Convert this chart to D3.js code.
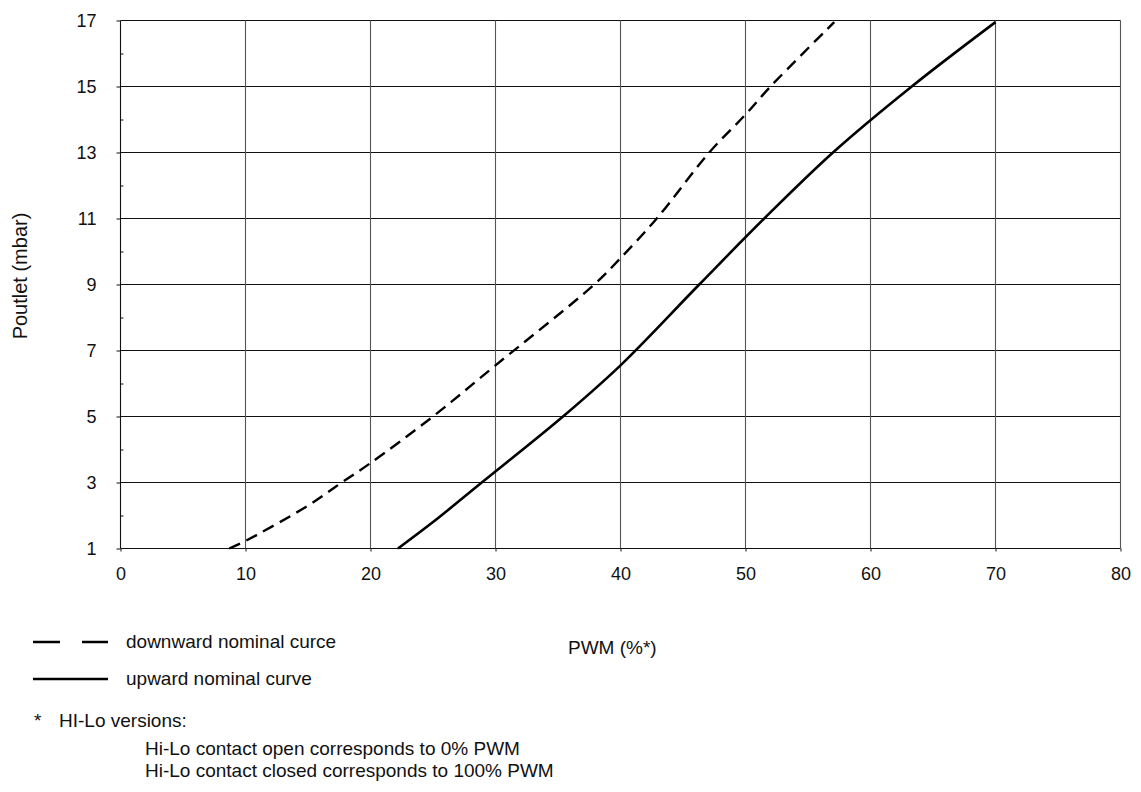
<!DOCTYPE html>
<html>
<head>
<meta charset="utf-8">
<script src="https://cdn.jsdelivr.net/npm/d3@7"></script>
<style>
    body { margin: 0; background: #fff; }
    text { font-family: "Liberation Sans", Arial, sans-serif; fill: #111; }
    .tick-label { font-size: 18px; }
    .legend { font-size: 19px; }
    .axis-title { font-size: 20px; }
</style>
</head>
<body>
<svg id="chart"></svg>
<script>
// data: [PWM %, Poutlet mbar]
const downwardCurve = [
    [8.7, 1], [10, 1.23], [15, 2.3], [17.7, 3], [20, 3.59], [25, 5],
    [30, 6.55], [37.9, 9], [40, 9.8], [42.9, 11], [47.1, 13],
    [50, 14.15], [52, 15], [57.1, 16.95]
];
const upwardCurve = [
    [22.2, 1], [25, 1.8], [28.9, 3], [35.4, 5], [40, 6.55], [46.3, 9],
    [51.5, 11], [57, 13], [63.3, 15], [70, 16.95]
];
const xTicks = [0, 10, 20, 30, 40, 50, 60, 70, 80];
const yTicks = [1, 3, 5, 7, 9, 11, 13, 15, 17];
const yMinorTicks = [2, 4, 6, 8, 10, 12, 14, 16];
const legendLabels = ['downward nominal curce', 'upward nominal curve'];
const footnoteLines = [
    'Hi-Lo contact open corresponds to 0% PWM',
    'Hi-Lo contact closed corresponds to 100% PWM'
];

// sizes

let outerWidth = 1141;
let outerHeight = 792;
let plotLeft = 120.5;
let plotRight = 1120.5;
let plotTop = 20.5;
let plotBottom = 548.5;

let xScale = d3.scaleLinear().domain([0, 80]).range([plotLeft, plotRight]);
let yScale = d3.scaleLinear().domain([1, 17]).range([plotBottom, plotTop]);

let svg = d3.select('#chart')
    .attr('width', outerWidth)
    .attr('height', outerHeight);

// grid

let grid = svg.append('g');

grid.selectAll('.hline')
    .data(yTicks)
    .enter()
    .append('line')
    .attr('x1', plotLeft)
    .attr('x2', plotRight)
    .attr('y1', d => yScale(d))
    .attr('y2', d => yScale(d))
    .style('stroke', '#111')
    .style('stroke-width', 1.1);

grid.selectAll('.vline')
    .data(xTicks)
    .enter()
    .append('line')
    .attr('x1', d => xScale(d))
    .attr('x2', d => xScale(d))
    .attr('y1', plotTop)
    .attr('y2', plotBottom)
    .style('stroke', d => d === 0 ? '#111' : '#555')
    .style('stroke-width', 1.1);

// axes

svg.append('g')
    .attr('transform', `translate(${plotLeft}, 0)`)
    .call(d3.axisLeft(yScale).tickValues(yTicks).tickSize(4).tickPadding(20).tickFormat(d3.format('d')))
    .call(g => g.select('.domain').remove())
    .call(g => g.selectAll('.tick line').style('stroke', '#111'))
    .call(g => g.selectAll('.tick text')
        .attr('class', 'tick-label')
        .attr('font-family', null)
        .attr('font-size', null));

// minor ticks point inwards
svg.append('g')
    .attr('transform', `translate(${plotLeft}, 0)`)
    .call(d3.axisRight(yScale).tickValues(yMinorTicks).tickSize(3).tickFormat(''))
    .call(g => g.select('.domain').remove())
    .call(g => g.selectAll('.tick line').style('stroke', '#111'));

svg.append('g')
    .attr('transform', `translate(0, ${plotBottom})`)
    .call(d3.axisBottom(xScale).tickValues(xTicks).tickSize(3).tickPadding(16))
    .call(g => g.select('.domain').remove())
    .call(g => g.selectAll('.tick line').style('stroke', '#111'))
    .call(g => g.selectAll('.tick text')
        .attr('class', 'tick-label')
        .attr('font-family', null)
        .attr('font-size', null));

svg.append('text')
    .attr('transform', 'rotate(-90)')
    .attr('x', -276)
    .attr('y', 27)
    .attr('class', 'axis-title')
    .style('text-anchor', 'middle')
    .text('Poutlet (mbar)');

svg.append('text')
    .attr('x', 568)
    .attr('y', 654)
    .attr('class', 'legend')
    .text('PWM (%*)');

// curves

let line = d3.line()
    .x(d => xScale(d[0]))
    .y(d => yScale(d[1]))
    .curve(d3.curveCatmullRom.alpha(0.5));

svg.append('path')
    .datum(downwardCurve)
    .attr('d', line)
    .style('fill', 'none')
    .style('stroke', '#000')
    .style('stroke-width', 2.4)
    .style('stroke-dasharray', '12,7');

svg.append('path')
    .datum(upwardCurve)
    .attr('d', line)
    .style('fill', 'none')
    .style('stroke', '#000')
    .style('stroke-width', 2.6);

// legend

let legend = svg.append('g');

legend.append('line')
    .attr('x1', 33).attr('x2', 108)
    .attr('y1', 642).attr('y2', 642)
    .style('stroke', '#000')
    .style('stroke-width', 2.4)
    .style('stroke-dasharray', '27,22');

legend.append('line')
    .attr('x1', 33).attr('x2', 108)
    .attr('y1', 679).attr('y2', 679)
    .style('stroke', '#000')
    .style('stroke-width', 2.4);

legend.selectAll('.legend-label')
    .data(legendLabels)
    .enter()
    .append('text')
    .attr('class', 'legend')
    .attr('x', 126)
    .attr('y', (d, i) => 648 + i * 37)
    .text(d => d);

// footnote

svg.append('text')
    .attr('class', 'legend')
    .attr('x', 34)
    .attr('y', 727)
    .text('*');

svg.append('text')
    .attr('class', 'legend')
    .attr('x', 59)
    .attr('y', 727)
    .text('HI-Lo versions:');

svg.selectAll('.footnote')
    .data(footnoteLines)
    .enter()
    .append('text')
    .attr('class', 'legend')
    .attr('x', 145)
    .attr('y', (d, i) => 755 + i * 22)
    .text(d => d);
</script>
</body>
</html>
